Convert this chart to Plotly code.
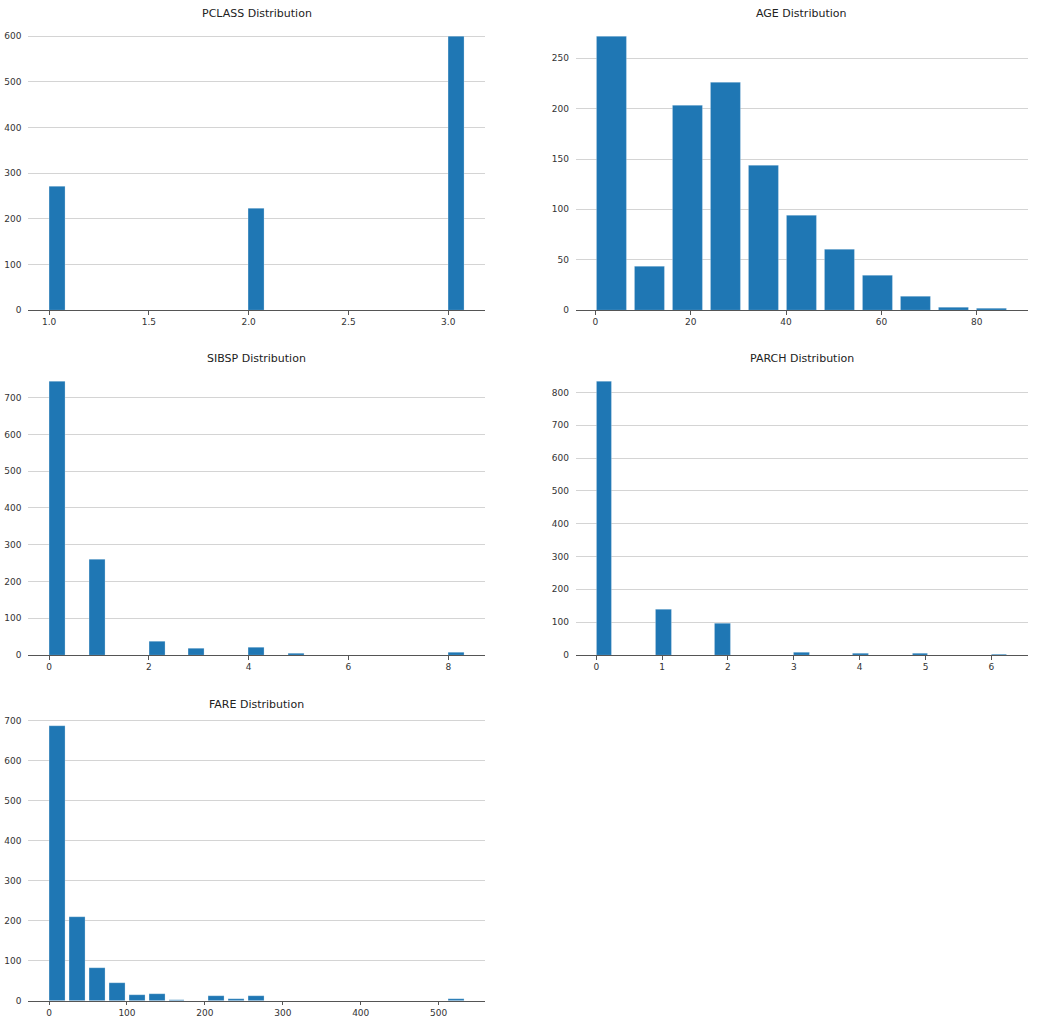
import math
import plotly.graph_objects as go

# distinct values and their counts (20 bins over the value range)
pclass_values = [1, 2, 3]
pclass_counts = [270, 222, 600]

sibsp_values = [0, 1, 2, 3, 4, 5, 8]
sibsp_counts = [745, 260, 37, 17, 20, 5, 8]

parch_values = [0, 1, 2, 3, 4, 5, 6]
parch_counts = [834, 140, 97, 9, 5, 5, 3]

# counts per bin, first bin starting at the minimum
age_min, age_max, age_bins = 0.17, 80, 10
age_counts = [272, 43, 203, 226, 144, 94, 60, 34, 13, 2, 1]

fare_min, fare_max, fare_bins = 0, 512.33, 20
fare_counts = [688, 209, 83, 45, 15, 18, 3, 0, 13, 4, 13,
               0, 0, 0, 0, 0, 0, 0, 0, 0, 4]

BLUE = '#1f77b4'
FONT = 'DejaVu Sans'


def sparse_bins(values, lo, hi, nbins=20):
    w = (hi - lo) / nbins
    lefts = [lo + math.floor((v - lo) / w + 1e-9) * w for v in values]
    return lefts, w


def dense_bins(counts, lo, hi, nbins):
    w = (hi - lo) / nbins
    return [lo + i * w for i in range(len(counts))], w


pc_x, pc_w = sparse_bins(pclass_values, min(pclass_values), max(pclass_values))
sb_x, sb_w = sparse_bins(sibsp_values, min(sibsp_values), max(sibsp_values))
pa_x, pa_w = sparse_bins(parch_values, min(parch_values), max(parch_values))
ag_x, ag_w = dense_bins(age_counts, age_min, age_max, age_bins)
fa_x, fa_w = dense_bins(fare_counts, fare_min, fare_max, fare_bins)

left_col = [28.3 / 1057, 485 / 1057]
right_col = [575.7 / 1057, 1027.7 / 1057]
rows = [[1 - 310 / 1025, 1 - 22.5 / 1025],
        [1 - 655 / 1025, 1 - 367.5 / 1025],
        [1 - 1000.7 / 1025, 1 - 712 / 1025]]
title_y = [1 - 13 / 1025, 1 - 358.5 / 1025, 1 - 704 / 1025]

panels = [
    ('PCLASS Distribution', pc_x, pclass_counts, pc_w, 0.5, '.1f', 100, left_col, 0),
    ('AGE Distribution', ag_x, age_counts, ag_w, 20, 'd', 50, right_col, 0),
    ('SIBSP Distribution', sb_x, sibsp_counts, sb_w, 2, 'd', 100, left_col, 1),
    ('PARCH Distribution', pa_x, parch_counts, pa_w, 1, 'd', 100, right_col, 1),
    ('FARE Distribution', fa_x, fare_counts, fa_w, 100, 'd', 100, left_col, 2),
]

fig = go.Figure()
annotations = []
for i, (title, xs, ys, w, xstep, xfmt, ystep, col, row) in enumerate(panels, start=1):
    sfx = '' if i == 1 else str(i)
    fig.add_trace(go.Bar(
        x=xs, y=ys, width=0.8 * w, offset=0,
        marker=dict(color=BLUE, line=dict(color='rgba(255,255,255,0.5)', width=0.5)),
        xaxis='x' + sfx, yaxis='y' + sfx, hoverinfo='x+y',
    ))
    a = xs[0]
    b = xs[-1] + 0.8 * w
    span = b - a
    fig.layout['xaxis' + sfx] = dict(
        domain=col, anchor='y' + sfx,
        range=[a - 0.05 * span, b + 0.05 * span],
        showline=True, linecolor='#555555', linewidth=1,
        ticks='outside', ticklen=3.5, tickcolor='#555555', tickwidth=1,
        tick0=0, dtick=xstep, tickformat=xfmt,
        tickfont=dict(family=FONT, size=9, color='#333333'),
        showgrid=False, zeroline=False, automargin=False,
    )
    fig.layout['yaxis' + sfx] = dict(
        domain=rows[row], anchor='x' + sfx,
        range=[0, 1.05 * max(ys)],
        showline=False, zeroline=False,
        showgrid=True, gridcolor='#d4d4d4', gridwidth=1,
        ticks='outside', ticklen=4, tickcolor='rgba(0,0,0,0)',
        tick0=0, dtick=ystep,
        tickfont=dict(family=FONT, size=9, color='#333333'),
        automargin=False,
    )
    annotations.append(dict(
        text=title, x=sum(col) / 2, y=title_y[row],
        xref='paper', yref='paper', xanchor='center', yanchor='middle',
        showarrow=False, font=dict(family=FONT, size=11, color='#222222'),
    ))

fig.update_layout(
    width=1057, height=1025,
    margin=dict(l=0, r=0, t=0, b=0),
    paper_bgcolor='white', plot_bgcolor='white',
    showlegend=False, annotations=annotations,
    font=dict(family=FONT),
    bargap=0,
)

# page body has an 8px default margin; drop it so the figure sits at (0, 0)
fig.write_html("out.html", config=dict(displayModeBar=False),
               post_script="document.body.style.margin = '0';")
